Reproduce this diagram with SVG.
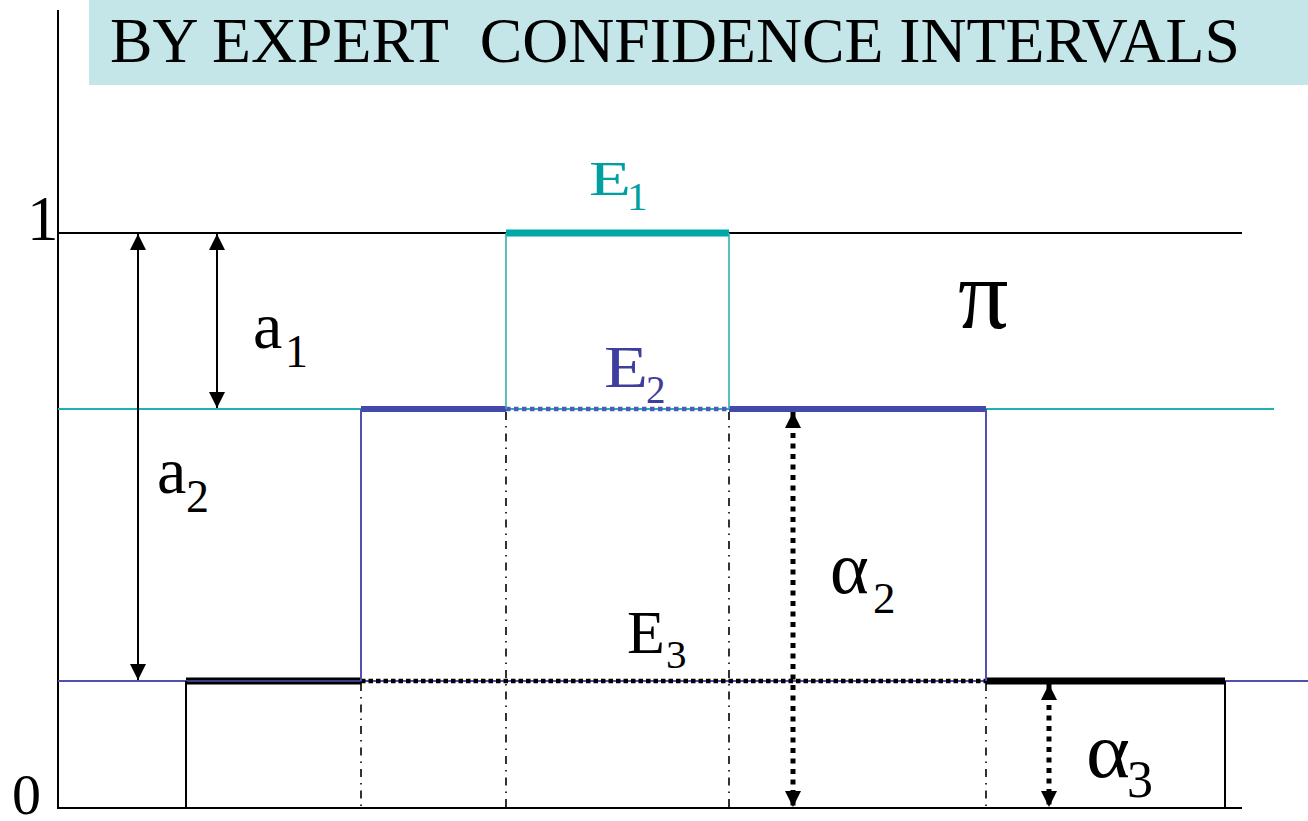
<svg xmlns="http://www.w3.org/2000/svg" width="1308" height="821" viewBox="0 0 1308 821">
<style>
text{font-family:"Liberation Serif","Times New Roman",serif;fill:#000}
.teal{fill:#00A0A0}
.blue{fill:#3E3E9E}
.ax{stroke:#000;stroke-width:2;fill:none}
.dd{stroke:#000;stroke-width:1.6;stroke-dasharray:8 6 1.5 6;fill:none}
.dim{stroke:#000;stroke-width:2;marker-start:url(#ah);marker-end:url(#ah)}
.dimd{stroke:#000;stroke-width:5;stroke-dasharray:5 5.5;marker-start:url(#ah);marker-end:url(#ah)}
</style>
<defs>
<marker id="ah" markerUnits="userSpaceOnUse" markerWidth="16" markerHeight="16" viewBox="0 0 16 16" refX="16" refY="8" orient="auto-start-reverse">
<path d="M0,0 L16,8 L0,16 z" fill="#000"/>
</marker>
</defs>
<g id="title">
<rect x="89" y="0" width="1219" height="85" fill="#C4E6E8"/>
<text x="110" y="62" font-size="63" textLength="1130" lengthAdjust="spacingAndGlyphs" xml:space="preserve">BY EXPERT  CONFIDENCE INTERVALS</text>
</g>
<g id="axes">
<line class="ax" x1="58" y1="10" x2="58" y2="809"/>
<line class="ax" x1="57" y1="808" x2="1242" y2="808"/>
<line x1="58" y1="233" x2="1242" y2="233" stroke="#000" stroke-width="2"/>
<line x1="58" y1="409" x2="1274" y2="409" stroke="#20B0B0" stroke-width="2"/>
<line x1="58" y1="681" x2="1308" y2="681" stroke="#5050B0" stroke-width="2"/>
<text x="27" y="240" font-size="63">1</text>
<text x="12" y="814" font-size="58">0</text>
</g>
<g id="E3">
<line x1="186" y1="681" x2="361" y2="681" stroke="#000" stroke-width="7"/>
<line x1="186" y1="681" x2="361" y2="681" stroke="#5050B0" stroke-width="1.5"/>
<line x1="986" y1="681" x2="1225" y2="681" stroke="#000" stroke-width="7"/>
<line x1="361" y1="681" x2="986" y2="681" stroke="#000" stroke-width="4.5" stroke-dasharray="4.5 3"/>
<line class="ax" x1="186" y1="681" x2="186" y2="808"/>
<line class="ax" x1="1225" y1="681" x2="1225" y2="808"/>
<text x="627" y="653" font-size="62">E</text>
<text x="666" y="668" font-size="41">3</text>
</g>
<g id="E2">
<line x1="361" y1="409" x2="506" y2="409" stroke="#4348AA" stroke-width="6"/>
<line x1="729" y1="409" x2="986" y2="409" stroke="#4348AA" stroke-width="6"/>
<line x1="506" y1="409" x2="729" y2="409" stroke="#5058BB" stroke-width="4.5" stroke-dasharray="4.5 3.5"/>
<line x1="361" y1="409" x2="361" y2="681" stroke="#5050B0" stroke-width="2"/>
<line x1="986" y1="409" x2="986" y2="681" stroke="#5050B0" stroke-width="2"/>
<text class="blue" x="604" y="387" font-size="60" textLength="44" lengthAdjust="spacingAndGlyphs">E</text>
<text class="blue" x="646" y="403" font-size="39">2</text>
</g>
<g id="E1">
<line x1="506" y1="233" x2="729" y2="233" stroke="#00A8A8" stroke-width="7"/>
<line x1="506" y1="233" x2="506" y2="409" stroke="#30B0B0" stroke-width="1.6"/>
<line x1="729" y1="233" x2="729" y2="409" stroke="#30B0B0" stroke-width="1.6"/>
<text class="teal" x="589" y="195" font-size="48" textLength="42" lengthAdjust="spacingAndGlyphs">E</text>
<text class="teal" x="627" y="210" font-size="41">1</text>
</g>
<g id="pi">
<text x="958" y="328" font-size="100">π</text>
</g>
<g id="connectors">
<line class="dd" x1="361" y1="683" x2="361" y2="808"/>
<line class="dd" x1="506" y1="412" x2="506" y2="808"/>
<line class="dd" x1="729" y1="412" x2="729" y2="808"/>
<line class="dd" x1="986" y1="683" x2="986" y2="808"/>
<line class="dim" x1="217" y1="234" x2="217" y2="408"/>
<line class="dim" x1="138" y1="234" x2="138" y2="680"/>
<line class="dimd" x1="793" y1="412" x2="793" y2="807"/>
<line class="dimd" x1="1049" y1="684" x2="1049" y2="807"/>
</g>
<g id="labels">
<text x="253" y="348" font-size="66">a</text>
<text x="285" y="367" font-size="46">1</text>
<text x="157" y="493" font-size="66">a</text>
<text x="186" y="512" font-size="46">2</text>
<text x="830" y="593" font-size="74">α</text>
<text x="873" y="613" font-size="45">2</text>
<text x="1086" y="777" font-size="78" textLength="44" lengthAdjust="spacingAndGlyphs">α</text>
<text x="1127" y="797" font-size="52">3</text>
</g>
</svg>
